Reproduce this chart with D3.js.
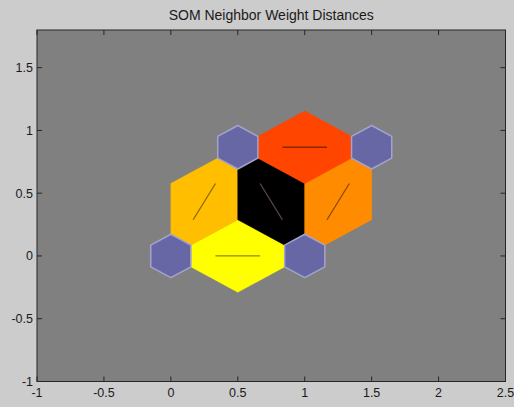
<!DOCTYPE html>
<html>
<head>
<meta charset="utf-8">
<script src="https://cdn.jsdelivr.net/npm/d3@7"></script>
<style>
  html, body { margin: 0; padding: 0; background: #cccccc; }
  svg { display: block; }
</style>
</head>
<body>
<div id="chart"></div>
<script>
// ---------------- data ----------------
const title = "SOM Neighbor Weight Distances";
// neuron positions (hextop 2x2)
const neuronX = [0, 1, 0.5, 1.5];
const neuronY = [0, 0, 0.8660, 0.8660];
// neighbor pairs (indices into neuron arrays)
const edgeFrom = [0, 0, 1, 1, 2];
const edgeTo   = [1, 2, 2, 3, 3];
// normalized neighbor weight distances (0 = closest, 1 = farthest)
const edgeLevel = [0.0, 0.125, 1.0, 0.225, 0.365];
// axis ticks
const xTicks = [-1, -0.5, 0, 0.5, 1, 1.5, 2, 2.5];
const yTicks = [-1, -0.5, 0, 0.5, 1, 1.5];
const xTickLabels = ["-1", "-0.5", "0", "0.5", "1", "1.5", "2", "2.5"];
const yTickLabels = ["-1", "-0.5", "0", "0.5", "1", "1.5"];

// ---------------- layout / style ----------------
const W = 514, H = 407;
const mLeft = 37, mRight = 505.5, mTop = 30, mBottom = 381.5;
const font = "'Liberation Sans', Arial, Helvetica, sans-serif";
const lineColorOf = (lvl, c) => lvl >= 0.99 ? "#5e4646" : d3.rgb(c.r * 0.55, c.g * 0.55, c.b * 0.55).formatHex();

const svg = d3.select("#chart").append("svg")
  .attr("width", W).attr("height", H)
  .style("background", "#cccccc");

const x = d3.scaleLinear().domain([-1, 2.5]).range([mLeft, mRight]);
const y = d3.scaleLinear().domain([-1, 1.8]).range([mBottom, mTop]);
const color = d3.scaleLinear().domain([0, 0.5, 1])
  .range(["#ffff00", "#ff0000", "#000000"]).interpolate(d3.interpolateRgb);

// plot background
svg.append("rect")
  .attr("x", mLeft).attr("y", mTop)
  .attr("width", mRight - mLeft).attr("height", mBottom - mTop)
  .attr("fill", "#808080");

const poly = pts => "M" + pts.map(p => x(p[0]).toFixed(2) + "," + y(p[1]).toFixed(2)).join("L") + "Z";

// edge diamonds
const k = Math.sqrt(0.75) / 3;
const edges = edgeFrom.map((a, i) => {
  const b = edgeTo[i];
  const ax = neuronX[a], ay = neuronY[a], bx = neuronX[b], by = neuronY[b];
  const dx = bx - ax, dy = by - ay;
  const mx = (ax + bx) / 2, my = (ay + by) / 2;
  const pts = [[ax, ay], [mx - dy * k, my + dx * k], [bx, by], [mx + dy * k, my - dx * k]];
  const c = d3.rgb(color(edgeLevel[i]));
  return {
    pts, fill: c.formatHex(), stroke: lineColorOf(edgeLevel[i], c),
    l1: [(2 * ax + bx) / 3, (2 * ay + by) / 3], l2: [(ax + 2 * bx) / 3, (ay + 2 * by) / 3]
  };
});

const gEdges = svg.append("g");
gEdges.selectAll("path").data(edges).join("path")
  .attr("d", d => poly(d.pts))
  .attr("fill", d => d.fill)
  .attr("stroke", d => d.fill)
  .attr("stroke-width", 0.5);

gEdges.selectAll("line").data(edges).join("line")
  .attr("x1", d => x(d.l1[0])).attr("y1", d => y(d.l1[1]))
  .attr("x2", d => x(d.l2[0])).attr("y2", d => y(d.l2[1]))
  .attr("stroke", d => d.stroke)
  .attr("stroke-width", 1.3);

// neuron hexagons
const shapex = [-1, 0, 1, 1, 0, -1].map(v => v * 0.5 * 0.3);
const shapey = [1, 2, 1, -1, -2, -1].map(v => v * k * 0.3);
svg.append("g").selectAll("path").data(neuronX.map((nx, i) => [nx, neuronY[i]])).join("path")
  .attr("d", p => poly(shapex.map((sx, j) => [p[0] + sx, p[1] + shapey[j]])))
  .attr("fill", "#6767a6")
  .attr("stroke", "#a3a3cc")
  .attr("stroke-width", 1.5)
  .attr("stroke-linejoin", "round");

// axes frame
const axisColor = "#262626";
svg.append("rect")
  .attr("x", mLeft).attr("y", mTop)
  .attr("width", mRight - mLeft).attr("height", mBottom - mTop)
  .attr("fill", "none").attr("stroke", axisColor).attr("stroke-width", 1);

const tl = 5;
const gt = svg.append("g").attr("stroke", axisColor).attr("stroke-width", 1);
xTicks.forEach(t => {
  gt.append("line").attr("x1", x(t)).attr("x2", x(t)).attr("y1", mBottom).attr("y2", mBottom - tl);
  gt.append("line").attr("x1", x(t)).attr("x2", x(t)).attr("y1", mTop).attr("y2", mTop + tl);
});
yTicks.forEach(t => {
  gt.append("line").attr("y1", y(t)).attr("y2", y(t)).attr("x1", mLeft).attr("x2", mLeft + tl);
  gt.append("line").attr("y1", y(t)).attr("y2", y(t)).attr("x1", mRight).attr("x2", mRight - tl);
});

// tick labels
svg.append("g").selectAll("text").data(xTicks).join("text")
  .attr("x", d => x(d)).attr("y", 397)
  .attr("text-anchor", "middle")
  .attr("font-family", font).attr("font-size", 12.5).attr("fill", "#1a1a1a")
  .text((d, i) => xTickLabels[i]);

svg.append("g").selectAll("text").data(yTicks).join("text")
  .attr("x", mLeft - 4).attr("y", d => y(d) + 4.5)
  .attr("text-anchor", "end")
  .attr("font-family", font).attr("font-size", 12.5).attr("fill", "#1a1a1a")
  .text((d, i) => yTickLabels[i]);

// title
svg.append("text")
  .attr("x", (mLeft + mRight) / 2).attr("y", 20)
  .attr("text-anchor", "middle")
  .attr("font-family", font).attr("font-size", 14).attr("fill", "#1a1a1a")
  .text(title);
</script>
</body>
</html>
